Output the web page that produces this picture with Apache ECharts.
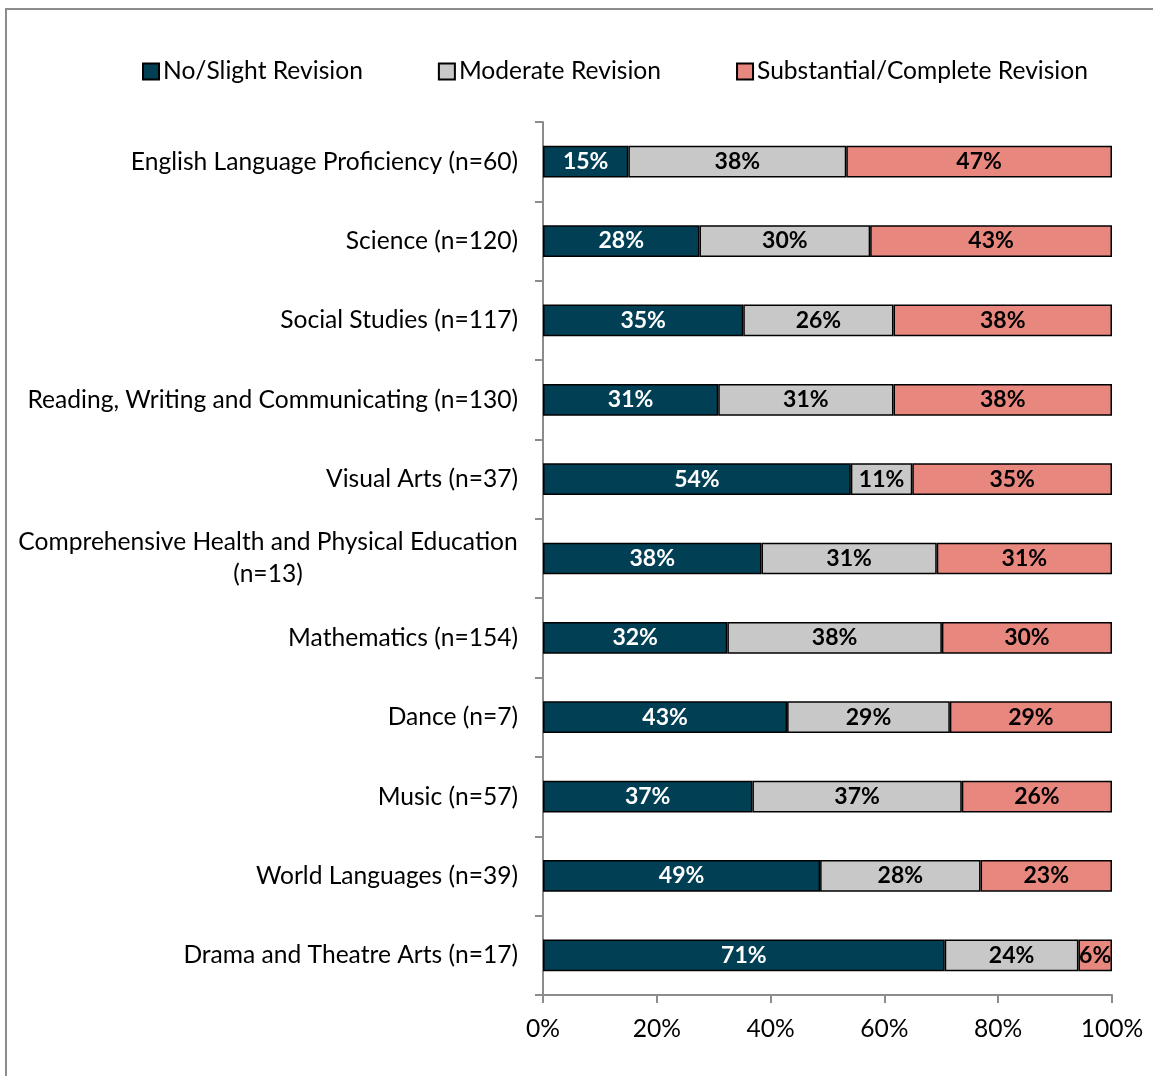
<!DOCTYPE html>
<html>
<head>
<meta charset="utf-8">
<script src="https://cdn.jsdelivr.net/npm/echarts@6/dist/echarts.min.js"></script>
<style>
  html, body { margin: 0; padding: 0; background: #fff; }
  #frame { position: absolute; left: 5px; top: 8px; width: 1200px; height: 1100px; border: 2px solid #8c8c8c; box-sizing: border-box; }
  #charts { position: absolute; left: 0; top: 0; width: 1153px; height: 1076px; }
</style>
</head>
<body>
<div id="frame"></div>
<div id="charts"></div>
<script>
var categories = [
    'English Language Proficiency (n=60)',
    'Science (n=120)',
    'Social Studies (n=117)',
    'Reading, Writing and Communicating (n=130)',
    'Visual Arts (n=37)',
    'Comprehensive Health and Physical Education\n(n=13)',
    'Mathematics (n=154)',
    'Dance (n=7)',
    'Music (n=57)',
    'World Languages (n=39)',
    'Drama and Theatre Arts (n=17)'
];
var noSlight = [15.0, 27.5, 35.2, 30.8, 54.1, 38.4, 32.4, 42.9, 36.8, 48.7, 70.6];
var moderate = [38.3, 30.0, 26.4, 30.8, 10.8, 30.8, 37.7, 28.6, 36.8, 28.2, 23.5];
var substantial = [46.7, 42.5, 38.4, 38.4, 35.1, 30.8, 29.9, 28.5, 26.4, 23.1, 5.9];
var seriesNames = ['No/Slight Revision', 'Moderate Revision', 'Substantial/Complete Revision'];
var xTicks = [0, 20, 40, 60, 80, 100];

var font = 'Lato';
var myChart = echarts.init(document.getElementById('charts'));

function barSeries(name, data, color, labelColor) {
    return {
        name: name,
        type: 'bar',
        stack: 'total',
        barCategoryGap: '60%',
        data: data,
        itemStyle: { color: color, borderColor: '#000', borderWidth: 1.5 },
        label: {
            show: true,
            position: 'inside',
            formatter: function (p) { return Math.round(p.value) + '%'; },
            color: labelColor,
            fontFamily: font,
            fontWeight: 'bold',
            fontSize: 23
        }
    };
}

var option = {
    animation: false,
    legend: {
        left: 137,
        top: 54,
        itemWidth: 16,
        itemHeight: 16,
        itemGap: 75,
        icon: 'rect',
        data: seriesNames,
        textStyle: { fontFamily: font, fontSize: 24.6, color: '#000', padding: [0, 0, 0, -1] }
    },
    grid: {
        left: 543,
        right: 41,
        top: 122,
        bottom: 81
    },
    xAxis: {
        type: 'value',
        min: 0,
        max: 100,
        interval: 20,
        splitLine: { show: false },
        axisLine: { show: true, lineStyle: { color: '#8c8c8c', width: 2 } },
        axisTick: { show: true, length: 8, lineStyle: { color: '#8c8c8c', width: 2 } },
        axisLabel: {
            margin: 22,
            fontFamily: font,
            fontSize: 24.6,
            color: '#000',
            formatter: function (v) { return xTicks.indexOf(v) >= 0 ? v + '%' : ''; }
        }
    },
    yAxis: {
        type: 'category',
        inverse: true,
        data: categories,
        axisLine: { show: true, lineStyle: { color: '#8c8c8c', width: 2 } },
        axisTick: { show: true, length: 8, lineStyle: { color: '#8c8c8c', width: 2 } },
        axisLabel: {
            margin: 25,
            fontFamily: font,
            fontSize: 24.6,
            color: '#000',
            lineHeight: 32,
            formatter: function (v) {
                if (v.indexOf('\n') >= 0) {
                    return v.split('\n').map(function (s) { return '{c|' + s + '}'; }).join('\n');
                }
                return v;
            },
            rich: {
                c: { fontFamily: font, fontSize: 24.6, color: '#000', width: 500, align: 'center', lineHeight: 32 }
            }
        }
    },
    series: [
        barSeries(seriesNames[0], noSlight, '#013F55', '#fff'),
        barSeries(seriesNames[1], moderate, '#C8C8C8', '#000'),
        barSeries(seriesNames[2], substantial, '#E8877E', '#000')
    ]
};
myChart.setOption(option);
</script>
</body>
</html>
